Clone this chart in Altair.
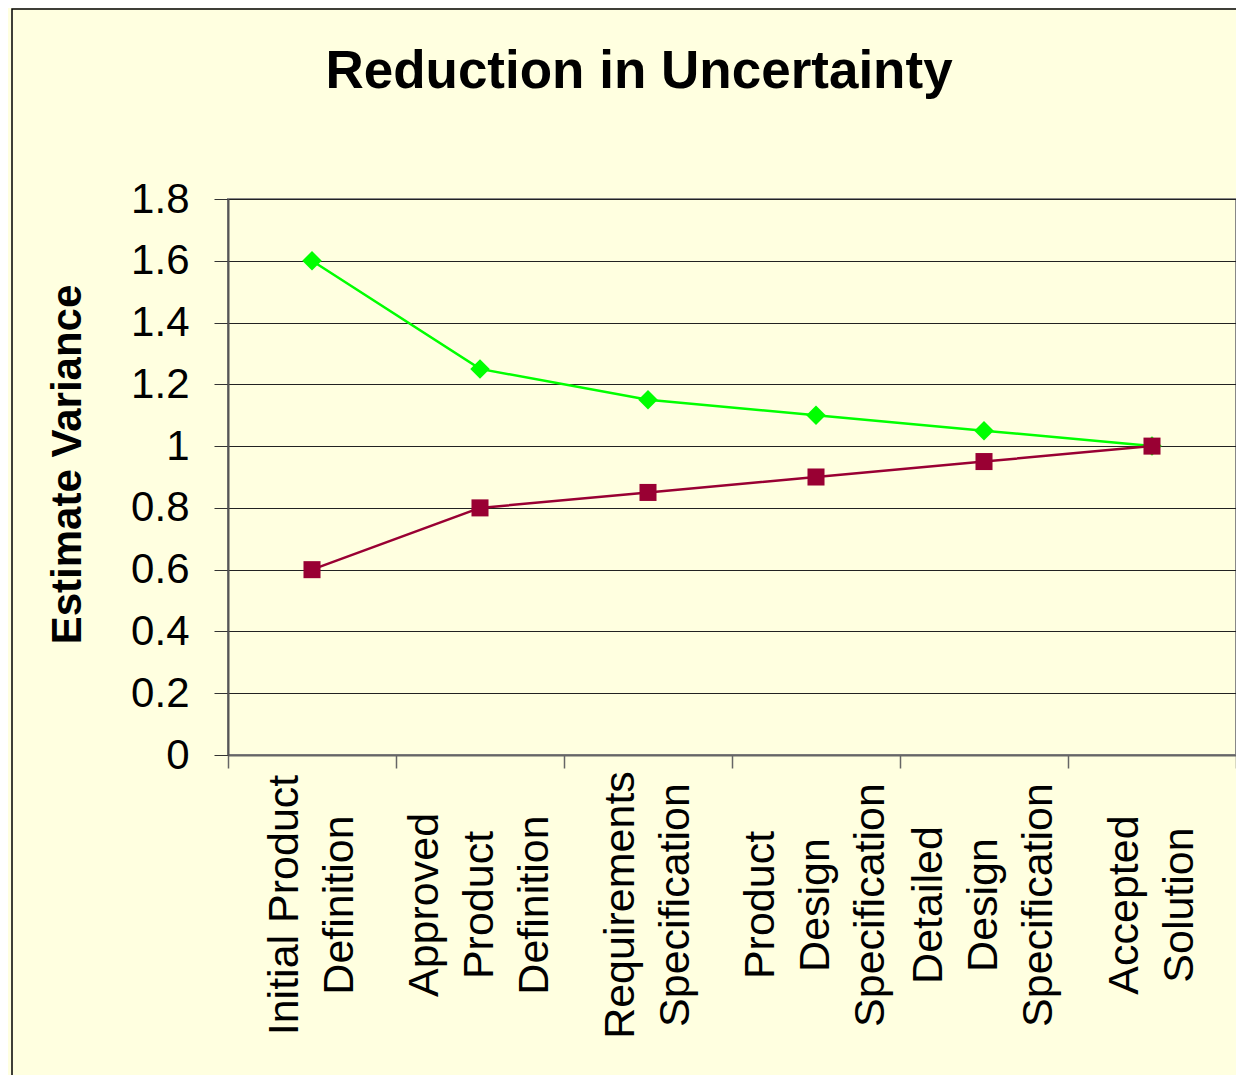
import altair as alt
import pandas as pd

stages = [
    "Initial Product\nDefinition",
    "Approved\nProduct\nDefinition",
    "Requirements\nSpecification",
    "Product\nDesign\nSpecification",
    "Detailed\nDesign\nSpecification",
    "Accepted\nSolution",
]
upper = [1.6, 1.25, 1.15, 1.1, 1.05, 1.0]
lower = [0.6, 0.8, 0.85, 0.9, 0.95, 1.0]
y_ticks = [0, 0.2, 0.4, 0.6, 0.8, 1.0, 1.2, 1.4, 1.6, 1.8]

df = pd.DataFrame({"stage": stages, "upper": upper, "lower": lower})

# one row per label line (category label split into its lines)
label_rows = []
for s in stages:
    parts = s.split("\n")
    for i, p in enumerate(parts):
        label_rows.append({"stage": s, "line": p, "idx": i, "n": len(parts)})
labels_df = pd.DataFrame(label_rows)

FONT = "Liberation Sans"
BG = "#FFFFE0"
LINE_H = 55
N = len(stages)

x_scale = alt.Scale(type="band", paddingInner=0, paddingOuter=0)
x_axis = alt.Axis(
    title=None,
    labels=False,
    tickBand="extent",
    tickSize=13,
    tickColor="#666666",
    tickWidth=1.5,
    domainColor="#666666",
    domainWidth=2,
    grid=False,
)

x_enc = alt.X("stage:N", sort=stages, bandPosition=0.5, scale=x_scale, axis=x_axis)

y_axis = alt.Axis(
    title="Estimate Variance",
    titleFont=FONT,
    titleFontSize=42,
    titleFontWeight="bold",
    titleColor="black",
    titleX=-161,
    titleY=265,
    titleAngle=-90,
    titleAlign="center",
    titleBaseline="middle",
    values=y_ticks,
    format="~g",
    labelFont=FONT,
    labelFontSize=42,
    labelColor="black",
    labelPadding=25,
    tickSize=14,
    tickColor="#333333",
    domainColor="#555555",
    domainWidth=2,
    grid=True,
    gridColor="#222222",
    gridWidth=1,
)

y_scale = alt.Scale(domain=[0, 1.8], nice=False, zero=True)

base = alt.Chart(df)

upper_line = base.mark_line(
    color="#00FF00",
    strokeWidth=2.5,
    point=alt.OverlayMarkDef(shape="diamond", size=380, filled=True, color="#00FF00", opacity=1),
).encode(
    x=x_enc,
    y=alt.Y("upper:Q", scale=y_scale, axis=y_axis),
)

lower_line = base.mark_line(
    color="#990033",
    strokeWidth=2.5,
    point=alt.OverlayMarkDef(shape="square", size=290, filled=True, color="#990033", opacity=1),
).encode(
    x=x_enc,
    y=alt.Y("lower:Q", scale=y_scale, axis=y_axis),
)

x_labels = alt.Chart(labels_df).transform_calculate(
    off=f"width / (2 * {N}) + (datum.idx - (datum.n - 1) / 2) * {LINE_H}"
).mark_text(
    angle=270,
    align="center",
    baseline="middle",
    font=FONT,
    fontSize=43,
    color="black",
).encode(
    x=alt.X("stage:N", sort=stages, scale=x_scale, axis=x_axis),
    xOffset=alt.XOffset("off:Q", scale=None),
    y=alt.value(706),
    text="line:N",
)

frame = alt.Chart(alt.Data(values=[{}])).mark_rect(
    fill=None, stroke="black", strokeWidth=1.5
).encode(
    x=alt.value(-216), x2=alt.value(1200), y=alt.value(-190), y2=alt.value(1000)
)

chart = alt.layer(frame, upper_line, lower_line, x_labels).properties(
    width=1008,
    height=556,
    title=alt.TitleParams(
        "Reduction in Uncertainty",
        font=FONT,
        fontSize=53,
        fontWeight="bold",
        color="black",
        anchor="middle",
        dx=-93,
        offset=-133,
        baseline="alphabetic",
    ),
    autosize=alt.AutoSizeParams(type="none"),
    padding={"left": 220, "top": 191, "right": 0, "bottom": 320},
    background=BG,
).configure_view(
    stroke="#888888",
    strokeWidth=2,
)

chart.save("out.html", embed_options={"renderer": "svg", "actions": False})
